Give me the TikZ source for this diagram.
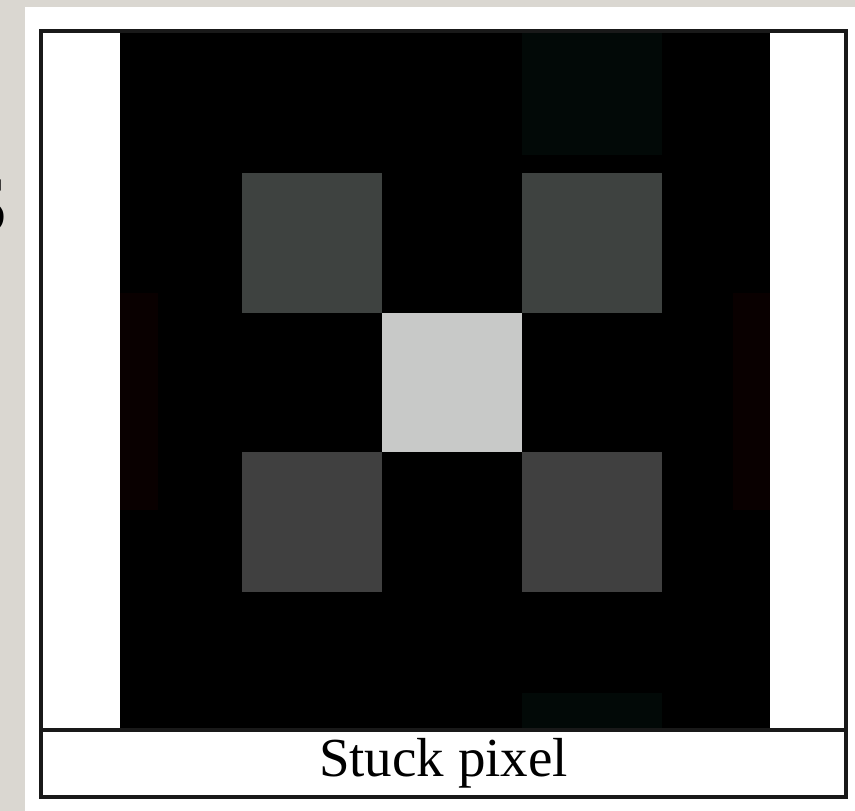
\documentclass[tikz,border=0pt]{standalone}
\usepackage{fontspec}
\setmainfont{Liberation Serif}
\definecolor{paper}{RGB}{218,215,209}
\definecolor{sqtop}{RGB}{62,66,64}
\definecolor{sqbot}{RGB}{64,64,64}
\definecolor{sqmid}{RGB}{200,201,200}
\definecolor{tintg}{RGB}{2,9,7}
\definecolor{tintr}{RGB}{9,0,0}
\definecolor{frame}{RGB}{25,25,25}
\tikzset{
  frameline/.style={draw=frame, line width=3.2pt},
}
\begin{document}
\begin{tikzpicture}[x=1pt,y=-1pt]
\useasboundingbox (0,0) rectangle (855,811);
% paper background
\fill[paper] (0,0) rectangle (855,811);
% partial title letter at left (cut off by the panel, as in the reference)
\begin{scope}
  \clip (0,0) rectangle (25,811);
  \node[font=\fontsize{82}{90}\selectfont, anchor=east, inner sep=0pt] (ttl) at (9,206) {S};
\end{scope}
% white panel
\fill[white] (25,7) rectangle (855,811);
% black image
\fill[black] (120,33) rectangle (770,729);
% faint tints
\fill[tintg] (522,33) rectangle (662,155);
\fill[tintg] (522,693) rectangle (662,729);
\fill[tintr] (120,293) rectangle (158,510);
\fill[tintr] (733,293) rectangle (770,510);
% squares
\fill[sqtop] (242,173) rectangle (382,313);
\fill[sqtop] (522,173) rectangle (662,313);
\fill[sqmid] (382,313) rectangle (522,452);
\fill[sqbot] (242,452) rectangle (382,592);
\fill[sqbot] (522,452) rectangle (662,592);
% frame
\draw[frameline] (41,31) rectangle (846,797);
\draw[frameline] (41,730) -- (846,730);
% caption
\node[font=\fontsize{55}{60}\selectfont, inner sep=0pt] (cap) at (443.5,763) {Stuck pixel};
\end{tikzpicture}
\end{document}
